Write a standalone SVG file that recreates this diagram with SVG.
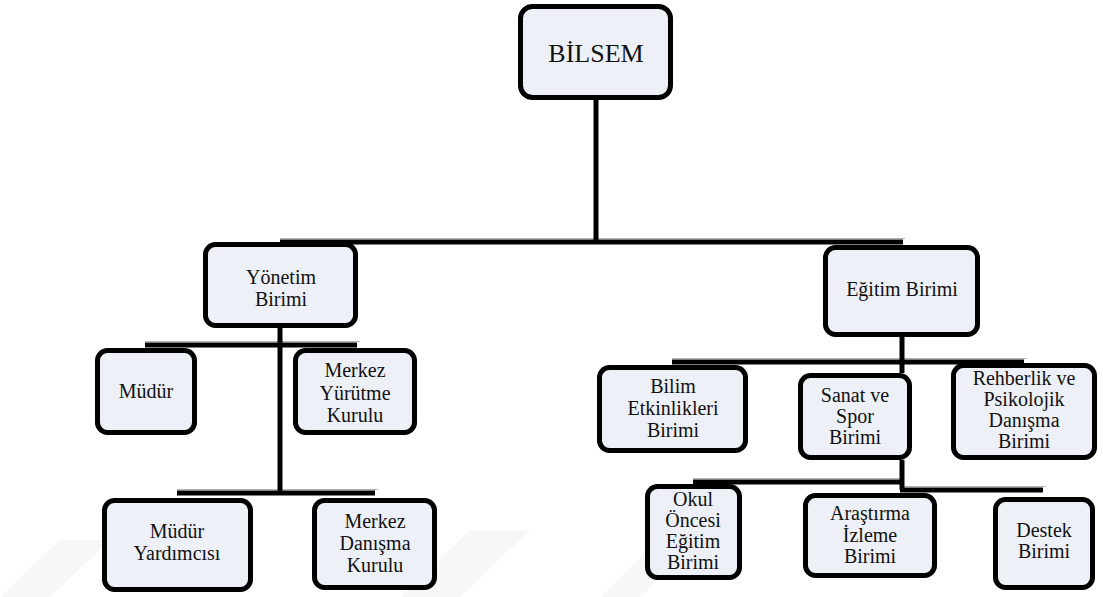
<svg xmlns="http://www.w3.org/2000/svg" width="1103" height="597" viewBox="0 0 1103 597">
<style>
.box{fill:#edf0f7;stroke:#000;stroke-width:5}
.ln{stroke:#000;stroke-width:5;fill:none}
.sh{stroke:#b4b4b4;stroke-width:1;fill:none}
text{font-family:"Liberation Serif","Times New Roman",serif;font-size:20px;fill:#111;text-anchor:middle}
.wm{fill:#f7f7f7}
</style>
<rect width="1103" height="597" fill="#fff"/>
<g id="watermark">
<polygon class="wm" points="0,597 60,540 110,540 50,597"/>
<polygon class="wm" points="400,597 470,530 530,530 460,597"/>
<polygon class="wm" points="600,597 660,540 700,540 640,597"/>
</g>
<g id="connectors">
<line class="sh" x1="280" y1="238.5" x2="905" y2="238.5"/>
<line class="sh" x1="145" y1="341.5" x2="360" y2="341.5"/>
<line class="sh" x1="177" y1="489.5" x2="378" y2="489.5"/>
<line class="sh" x1="672" y1="358.5" x2="1027" y2="358.5"/>
<line class="sh" x1="693" y1="478.5" x2="902" y2="478.5"/>
<line class="sh" x1="902" y1="486.5" x2="1046" y2="486.5"/>
<line class="ln" x1="596" y1="100" x2="596" y2="242"/>
<line class="ln" x1="280" y1="242" x2="903" y2="242"/>
<line class="ln" x1="280" y1="328" x2="280" y2="493"/>
<line class="ln" x1="145" y1="345" x2="357" y2="345"/>
<line class="ln" x1="177" y1="493" x2="375" y2="493"/>
<line class="ln" x1="902" y1="337" x2="902" y2="373"/>
<line class="ln" x1="672" y1="362" x2="1024" y2="362"/>
<line class="ln" x1="902" y1="460" x2="902" y2="490"/>
<line class="ln" x1="693" y1="482" x2="902" y2="482"/>
<line class="ln" x1="900" y1="490" x2="1043" y2="490"/>
</g>
<g font-family="Liberation Serif, Times New Roman, serif">
<g id="bilsem">
<rect class="box" x="520.5" y="6.5" width="150" height="91" rx="12"/>
<text x="596" y="62" style="font-size:26px">BİLSEM</text>
</g>
<g id="yonetim">
<rect class="box" x="205.5" y="244.5" width="150" height="81" rx="10"/>
<text x="281" y="284">Yönetim</text>
<text x="281" y="306">Birimi</text>
</g>
<g id="egitim">
<rect class="box" x="825.5" y="247.5" width="152" height="87" rx="10"/>
<text x="902" y="296">Eğitim Birimi</text>
</g>
<g id="mudur">
<rect class="box" x="97.5" y="350.5" width="97" height="82" rx="10"/>
<text x="146" y="398">Müdür</text>
</g>
<g id="merkez-yurutme">
<rect class="box" x="295.5" y="350.5" width="119" height="82" rx="10"/>
<text x="355" y="377">Merkez</text>
<text x="355" y="400">Yürütme</text>
<text x="355" y="422">Kurulu</text>
</g>
<g id="mudur-yardimcisi">
<rect class="box" x="104.5" y="500.5" width="146" height="89" rx="10"/>
<text x="177" y="538">Müdür</text>
<text x="177" y="560">Yardımcısı</text>
</g>
<g id="merkez-danisma">
<rect class="box" x="314.5" y="500.5" width="120" height="87" rx="10"/>
<text x="375" y="528">Merkez</text>
<text x="375" y="550">Danışma</text>
<text x="375" y="572">Kurulu</text>
</g>
<g id="bilim">
<rect class="box" x="599.5" y="367.5" width="146" height="83" rx="10"/>
<text x="673" y="393">Bilim</text>
<text x="673" y="415">Etkinlikleri</text>
<text x="673" y="437">Birimi</text>
</g>
<g id="sanat">
<rect class="box" x="800.5" y="375.5" width="109" height="82" rx="10"/>
<text x="855" y="402">Sanat ve</text>
<text x="855" y="423">Spor</text>
<text x="855" y="444">Birimi</text>
</g>
<g id="rehberlik">
<rect class="box" x="953.5" y="365.5" width="141" height="92" rx="10"/>
<text x="1024" y="385">Rehberlik ve</text>
<text x="1024" y="406">Psikolojik</text>
<text x="1024" y="427">Danışma</text>
<text x="1024" y="448">Birimi</text>
</g>
<g id="okul">
<rect class="box" x="647.5" y="486.5" width="92" height="91" rx="10"/>
<text x="693" y="506">Okul</text>
<text x="693" y="527">Öncesi</text>
<text x="693" y="548">Eğitim</text>
<text x="693" y="569">Birimi</text>
</g>
<g id="arastirma">
<rect class="box" x="805.5" y="495.5" width="129" height="80" rx="10"/>
<text x="870" y="520">Araştırma</text>
<text x="870" y="542">İzleme</text>
<text x="870" y="563">Birimi</text>
</g>
<g id="destek">
<rect class="box" x="995.5" y="499.5" width="97" height="88" rx="10"/>
<text x="1044" y="537">Destek</text>
<text x="1044" y="558">Birimi</text>
</g>
</g>
</svg>
